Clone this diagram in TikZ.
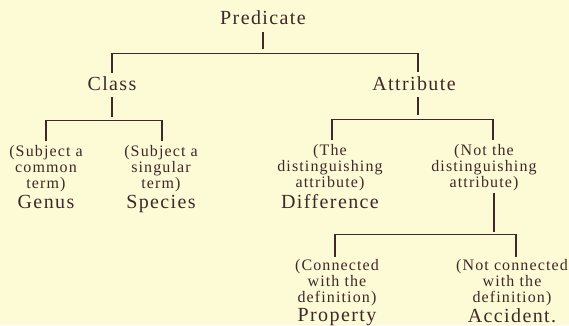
\documentclass[tikz,border=0pt]{standalone}
\usepackage{fontspec}
\setmainfont{Liberation Serif}[LetterSpace=7]
\definecolor{paper}{RGB}{252,251,214}
\definecolor{ink}{RGB}{62,40,40}
\begin{document}
\begin{tikzpicture}[x=1pt,y=-1pt,
  every node/.style={text=ink, inner sep=0pt, align=center},
  big/.style={font=\fontsize{20}{21}\selectfont},
  small/.style={font=\fontsize{16}{16}\selectfont},
  link/.style={draw=ink, line width=1.1pt},
  bar/.style={draw=ink, line width=0.9pt}]
\fill[paper] (0,0) rectangle (569,325);
\useasboundingbox (0,0) rectangle (569,325);
\newcommand{\bigword}[1]{{\fontsize{20}{21}\selectfont #1}}
% top level
\node[big, anchor=base] (pred) at (263,24) {Predicate};
\node[big, anchor=base] (class) at (112,90) {Class};
\node[big, anchor=base] (attr) at (414,90) {Attribute};
% leaves
\node[small, anchor=north] (s1) at (46,145) {(Subject a\\common\\term)\\[3pt]\bigword{Genus}};
\node[small, anchor=north] (s2) at (161,145) {(Subject a\\singular\\term)\\[3pt]\bigword{Species}};
\node[small, anchor=north] (d1) at (330,144) {(The\\distinguishing\\attribute)\\[3pt]\bigword{Difference}};
\node[small, anchor=north] (d2) at (484,144) {(Not the\\distinguishing\\attribute)};
\node[small, anchor=north] (p1) at (337,259) {(Connected\\with the\\definition)\\[1.5pt]\bigword{Property}};
\node[small, anchor=north] (p2) at (512,259) {(Not connected\\with the\\definition)\\[1.5pt]\bigword{Accident.}};
% junctions
\coordinate (jP) at (263,53);
\coordinate (jC) at (112,53);
\coordinate (jA) at (418,53);
\coordinate (jCl) at (112,120);
\coordinate (jS1) at (46,120);
\coordinate (jS2) at (162,120);
\coordinate (jAt) at (418,119);
\coordinate (jD1) at (332,119);
\coordinate (jD2) at (493,119);
\coordinate (jDd) at (494,234);
\coordinate (jP1) at (335,234);
\coordinate (jP2) at (516,234);
% Predicate
\draw[link, shorten <=8pt, shorten >=4pt] (pred.south) -- (jP);
\draw[bar] (jC) -- (jA);
\draw[link, shorten >=3pt] (jC) -- (class.north);
\draw[link, shorten >=4pt] (jA) -- (attr.north -| jA);
% Class
\draw[link, shorten <=7pt, shorten >=3pt] (class.south) -- (jCl);
\draw[bar] (jS1) -- (jS2);
\draw[link, shorten >=4pt] (jS1) -- (s1.north);
\draw[link, shorten >=4pt] (jS2) -- (jS2 |- s2.north);
% Attribute
\draw[link, shorten <=7pt, shorten >=4pt] (attr.south -| jAt) -- (jAt);
\draw[bar] (jD1) -- (jD2);
\draw[link, shorten >=4pt] (jD1) -- (jD1 |- d1.north);
\draw[link, shorten >=4pt] (jD2) -- (jD2 |- d2.north);
% Not the distinguishing attribute
\draw[link, shorten <=2pt, shorten >=2pt] (d2.south -| jDd) -- (jDd);
\draw[bar] (jP1) -- (jP2);
\draw[link, shorten >=2.5pt] (jP1) -- (jP1 |- p1.north);
\draw[link, shorten >=2.5pt] (jP2) -- (jP2 |- p2.north);
\end{tikzpicture}
\end{document}
